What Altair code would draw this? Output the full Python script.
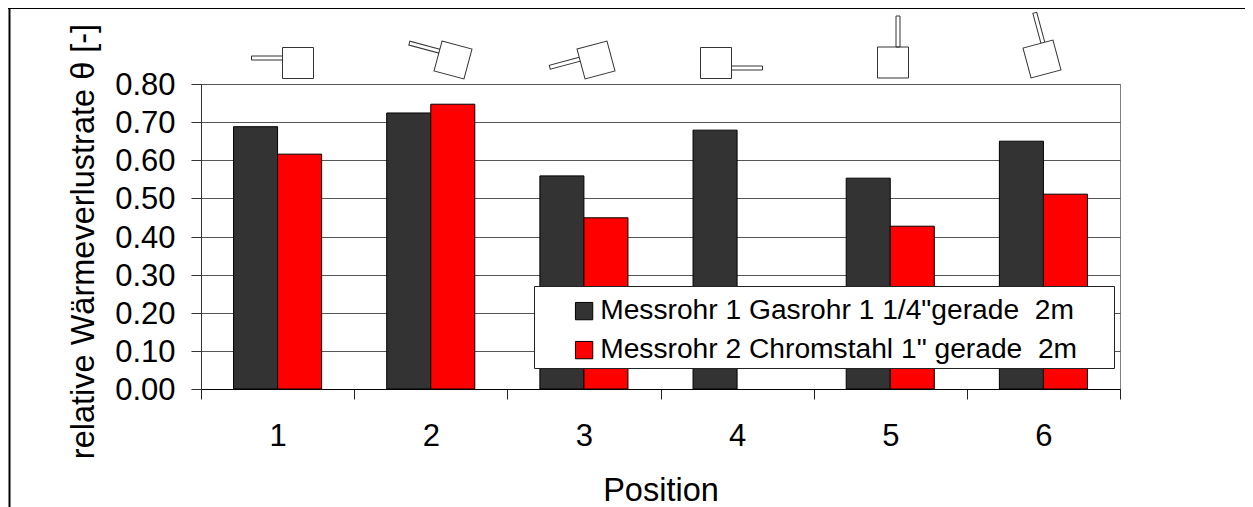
import altair as alt
import pandas as pd

positions = ["1", "2", "3", "4", "5", "6"]
rohr1 = [0.688, 0.724, 0.559, 0.679, 0.553, 0.650]
rohr2 = [0.616, 0.747, 0.449, None, 0.427, 0.511]
series1 = 'Messrohr 1 Gasrohr 1 1/4"gerade \u00a02m'
series2 = 'Messrohr 2 Chromstahl 1" gerade \u00a02m'
y_ticks = [0.0, 0.1, 0.2, 0.3, 0.4, 0.5, 0.6, 0.7, 0.8]

FONT = "Liberation Sans"
PAD_L, PAD_T = 193, 76
W, H = 919, 305

rows = []
for p, a, b in zip(positions, rohr1, rohr2):
    rows.append({"pos": p, "serie": series1, "val": a})
    rows.append({"pos": p, "serie": series2, "val": b})
df = pd.DataFrame(rows).dropna()

bars = alt.Chart(df).mark_bar(stroke="black", strokeWidth=1, xOffset=0.5).encode(
    x=alt.X("pos:N", sort=positions,
            scale=alt.Scale(domain=positions, paddingInner=0, paddingOuter=0),
            axis=alt.Axis(title="Position", labelAngle=0, tickBand="extent", tickSize=10,
                          labelPadding=22, titleX=W / 2, titleY=111, titleBaseline="alphabetic",
                          domainColor="black", tickColor="#222222", grid=False)),
    xOffset=alt.XOffset("serie:N", sort=[series1, series2],
                        scale=alt.Scale(domain=[series1, series2], paddingInner=0, paddingOuter=0.739)),
    y=alt.Y("val:Q", scale=alt.Scale(domain=[0, 0.8], nice=False),
            axis=alt.Axis(title="relative Wärmeverlustrate θ [-]", values=y_ticks, format=".2f",
                          tickSize=10, labelPadding=16, labelOffset=1.5, grid=True, gridColor="#555555",
                          gridWidth=1, titleX=-107.5, titleY=157, titleBaseline="alphabetic", titleAngle=270,
                          domainColor="#333333", tickColor="#333333")),
    fill=alt.Fill("serie:N", sort=[series1, series2],
                  scale=alt.Scale(domain=[series1, series2], range=["#333333", "#ff0000"]),
                  legend=alt.Legend(title=None, orient="none", legendX=570 - 8 - PAD_L,
                                    legendY=297 - 8 - PAD_T, padding=0, symbolType="square", symbolSize=300,
                                    symbolStrokeColor="black", symbolStrokeWidth=1,
                                    labelFontSize=28.2, labelFont=FONT, labelColor="black", rowPadding=10,
                                    labelLimit=600, zindex=1, labelOffset=2)),
)

one = pd.DataFrame({"k": [0]})

# decoration: pipe-and-square sketches above the plot, the legend box and the image frame
ICON = ("M-0.31,-0.31L0.31,-0.31L0.31,0.31L-0.31,0.31Z"
        "M-0.31,-0.14L-0.93,-0.14L-0.93,-0.06L-0.31,-0.06Z")
icons = [(298, 63, 0), (453, 60, 15), (596, 60, 345), (716, 63, 180), (893, 62.5, 90), (1042, 59, 75)]
layers = [bars]
for ix, iy, ang in icons:
    layers.append(alt.Chart(one).mark_point(shape=ICON, size=10000, angle=ang, filled=False,
                                            fill="white", stroke="#333333", strokeWidth=1, opacity=1).encode(
        x=alt.value(ix - 8 - PAD_L), y=alt.value(iy - 8 - PAD_T)))

legend_box = alt.Chart(one).mark_rect(fill="white", stroke="#222222", strokeWidth=1).encode(
    x=alt.value(534.5 - 8 - PAD_L), x2=alt.value(1114.5 - 8 - PAD_L),
    y=alt.value(286.5 - 8 - PAD_T), y2=alt.value(368.5 - 8 - PAD_T))
frame_top = alt.Chart(one).mark_rule(color="black", strokeWidth=2).encode(
    x=alt.value(-PAD_L), x2=alt.value(1245 - PAD_L), y=alt.value(-PAD_T))
frame_left = alt.Chart(one).mark_rule(color="black", strokeWidth=2).encode(
    x=alt.value(1.5 - PAD_L), y=alt.value(-PAD_T), y2=alt.value(499 - PAD_T))
layers += [legend_box, frame_top, frame_left]

chart = alt.layer(*layers).properties(
    width=W, height=H,
    autosize=alt.AutoSizeParams(type="none"),
    padding={"left": PAD_L, "top": PAD_T, "right": 1237 - PAD_L - W, "bottom": 499 - PAD_T - H},
    background="white",
).configure_view(stroke="#808080", strokeWidth=1).configure_axis(
    labelFont=FONT, titleFont=FONT, labelFontSize=31, titleFontSize=32.5,
    labelColor="black", titleColor="black", titleFontWeight="normal",
)

chart.save("out.html", embed_options={"renderer": "svg", "actions": False})
